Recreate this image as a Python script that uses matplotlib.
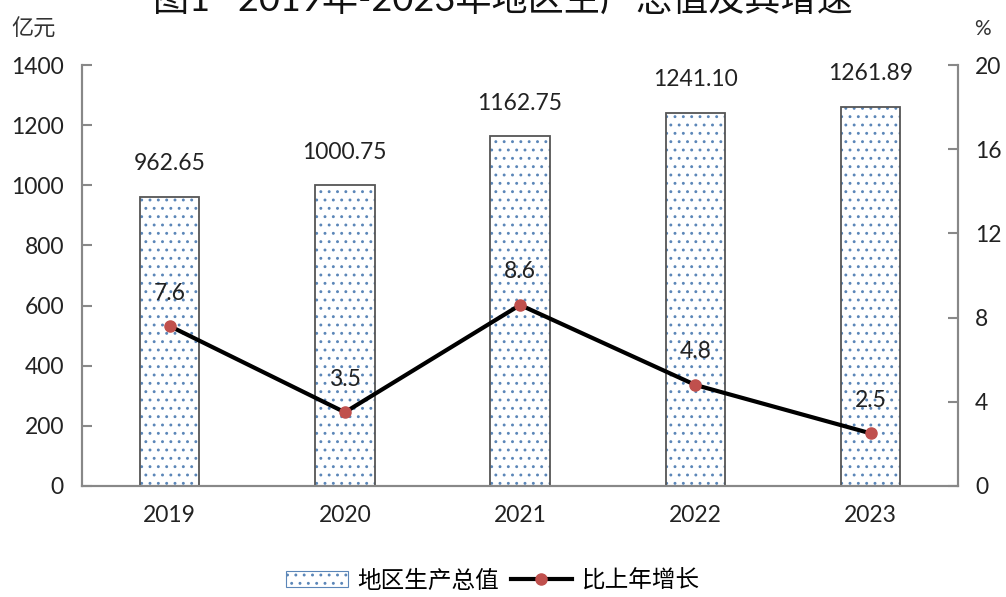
import numpy as np
import matplotlib.pyplot as plt
from matplotlib.lines import Line2D
from matplotlib.patches import Patch

plt.rcParams['font.family'] = ['Lato', 'Noto Sans CJK SC', 'DejaVu Sans']
plt.rcParams['hatch.linewidth'] = 0.9

years = ['2019', '2020', '2021', '2022', '2023']
gdp = [962.65, 1000.75, 1162.75, 1241.10, 1261.89]
growth = [7.6, 3.5, 8.6, 4.8, 2.5]

fig = plt.figure(figsize=(10.06, 5.97), dpi=100)
ax = fig.add_axes([0.0815, 0.186, 0.871, 0.705])
x = np.arange(len(years))

# dotted fill and grey outline drawn separately so they can have different colours
ax.bar(x, gdp, width=0.34, color='white', edgecolor='#5b86b8', hatch='..', linewidth=0)
ax.bar(x, gdp, width=0.34, color='none', edgecolor='#555555', linewidth=1.3)
for xi, v in zip(x, gdp):
    ax.annotate(f'{v:.2f}', (xi, v), xytext=(0, 33), textcoords='offset pixels',
                ha='center', va='center', fontsize=16.5, color='#222222')

ax.set_xlim(-0.5, 4.5)
ax.set_ylim(0, 1400)
ax.set_yticks(range(0, 1401, 200))
ax.set_xticks(x)
ax.set_xticklabels(years)

ax2 = ax.twinx()
ax2.plot(x, growth, color='black', lw=3, marker='o', ms=8,
         markerfacecolor='#c0504d', markeredgecolor='#c0504d', zorder=3)
for xi, v in zip(x, growth):
    ax2.annotate(f'{v}', (xi, v), xytext=(0, 33), textcoords='offset pixels',
                 ha='center', va='center', fontsize=16.5, color='#222222')
ax2.set_ylim(0, 20)
ax2.set_yticks(range(0, 21, 4))

for a in (ax, ax2):
    for s in a.spines.values():
        s.set_color('#888888')
        s.set_linewidth(1.5)
    a.spines['top'].set_visible(False)
    a.tick_params(direction='in', length=7, width=1.5, color='#888888',
                  labelsize=16.5, labelcolor='#222222')
ax.tick_params(axis='x', length=0, pad=14)
ax.tick_params(axis='y', pad=13)
ax2.tick_params(axis='y', pad=12)

# title sits partly above the top edge, as in the source image
fig.text(0.5, 1.0, '图1   2019年-2023年地区生产总值及其增速', ha='center', va='center',
         fontsize=26, color='#111111')
fig.text(0.011, 0.952, '亿元', ha='left', va='center', fontsize=16, color='#333333')
fig.text(0.968, 0.952, '%', ha='left', va='center', fontsize=15, color='#333333')

handles = [Patch(facecolor='white', edgecolor='#5b86b8', hatch='..', linewidth=0.8),
           Line2D([0], [0], color='black', lw=3, marker='o', ms=8,
                  markerfacecolor='#c0504d', markeredgecolor='#c0504d')]
fig.legend(handles, ['地区生产总值', '比上年增长'], loc='center', bbox_to_anchor=(0.49, 0.028),
           ncol=2, frameon=False, fontsize=17, handlelength=2.6, columnspacing=0.5,
           handletextpad=0.4)

fig.savefig('out.png', dpi=100)
